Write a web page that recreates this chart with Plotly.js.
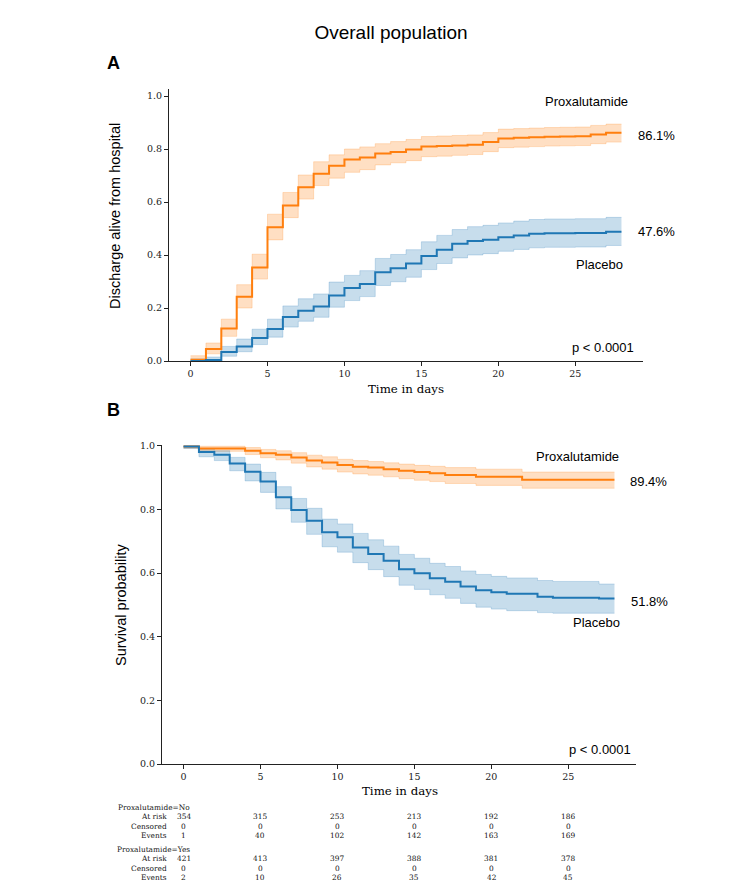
<!DOCTYPE html>
<html>
<head>
<meta charset="utf-8">
<script src="https://cdn.plot.ly/plotly-3.0.1.min.js"></script>
<style>html,body{margin:0;padding:0;background:#fff;}#chart{width:750px;height:884px;}</style>
</head>
<body>
<div id="chart"></div>
<script>
// ---------- DATA ----------
const days = [0,1,2,3,4,5,6,7,8,9,10,11,12,13,14,15,16,17,18,19,20,21,22,23,24,25,26,27,28];

// Panel A: discharge alive from hospital (cumulative)
const dischargeProx      = [0.005,0.045,0.123,0.242,0.353,0.505,0.587,0.656,0.707,0.737,0.760,0.768,0.783,0.789,0.798,0.809,0.811,0.813,0.816,0.826,0.840,0.842,0.844,0.846,0.847,0.848,0.855,0.861,0.861];
const dischargeProxLow   = [0.000,0.027,0.093,0.200,0.309,0.457,0.541,0.611,0.662,0.690,0.712,0.722,0.740,0.748,0.756,0.771,0.773,0.776,0.779,0.790,0.805,0.807,0.809,0.811,0.812,0.813,0.820,0.826,0.826];
const dischargeProxHigh  = [0.020,0.068,0.158,0.288,0.403,0.554,0.636,0.702,0.752,0.778,0.800,0.808,0.820,0.828,0.836,0.847,0.849,0.851,0.853,0.862,0.875,0.877,0.879,0.881,0.882,0.883,0.889,0.894,0.894];
const dischargePlac      = [0.000,0.004,0.034,0.055,0.087,0.121,0.166,0.190,0.206,0.247,0.275,0.291,0.335,0.350,0.368,0.396,0.420,0.442,0.453,0.458,0.467,0.474,0.480,0.482,0.482,0.483,0.483,0.488,0.488];
const dischargePlacLow   = [0.000,0.000,0.018,0.035,0.062,0.090,0.128,0.150,0.165,0.203,0.228,0.243,0.285,0.299,0.316,0.345,0.368,0.389,0.400,0.405,0.414,0.421,0.427,0.429,0.429,0.430,0.430,0.436,0.436];
const dischargePlacHigh  = [0.008,0.015,0.055,0.083,0.120,0.158,0.208,0.235,0.253,0.298,0.323,0.341,0.387,0.402,0.420,0.450,0.474,0.496,0.507,0.512,0.521,0.528,0.534,0.536,0.536,0.537,0.537,0.542,0.542];

// Panel B: survival probability
const survProx      = [0.998,0.992,0.992,0.992,0.985,0.977,0.972,0.964,0.954,0.948,0.940,0.935,0.932,0.927,0.922,0.918,0.914,0.909,0.909,0.903,0.903,0.903,0.894,0.894,0.894,0.894,0.894,0.894,0.894];
const survProxLow   = [0.993,0.983,0.983,0.983,0.973,0.963,0.956,0.946,0.934,0.927,0.918,0.912,0.908,0.903,0.897,0.892,0.888,0.882,0.882,0.876,0.876,0.876,0.867,0.867,0.867,0.867,0.867,0.867,0.867];
const survProxHigh  = [1.000,0.999,0.999,0.999,0.995,0.989,0.985,0.979,0.971,0.966,0.958,0.954,0.951,0.947,0.943,0.939,0.936,0.932,0.932,0.927,0.927,0.927,0.918,0.918,0.918,0.918,0.918,0.918,0.918];
const survPlac      = [0.998,0.981,0.972,0.945,0.919,0.888,0.839,0.799,0.765,0.729,0.713,0.681,0.660,0.639,0.612,0.600,0.584,0.573,0.558,0.546,0.540,0.535,0.535,0.526,0.523,0.523,0.523,0.520,0.520];
const survPlacLow   = [0.992,0.966,0.954,0.922,0.890,0.854,0.802,0.760,0.722,0.683,0.666,0.633,0.611,0.589,0.562,0.549,0.532,0.521,0.505,0.493,0.487,0.482,0.482,0.476,0.474,0.474,0.474,0.474,0.474];
const survPlacHigh  = [1.000,0.992,0.985,0.964,0.943,0.917,0.872,0.835,0.804,0.770,0.755,0.725,0.705,0.685,0.659,0.647,0.631,0.621,0.607,0.596,0.590,0.585,0.585,0.577,0.574,0.574,0.574,0.566,0.566];

// At-risk table
const tableTimes   = [0,5,10,15,20,25];
const noAtRisk     = [354,315,253,213,192,186];
const noCensored   = [0,0,0,0,0,0];
const noEvents     = [1,40,102,142,163,169];
const yesAtRisk    = [421,413,397,388,381,378];
const yesCensored  = [0,0,0,0,0,0];
const yesEvents    = [2,10,26,35,42,45];
const tableGroups  = ['Proxalutamide=No','Proxalutamide=Yes'];
const tableRowNames = ['At risk','Censored','Events'];

const xTicks = [0,5,10,15,20,25];
const yTicks = [0,0.2,0.4,0.6,0.8,1.0];

// ---------- STYLE ----------
const W = 750, H = 884;
const ORANGE = '#ff7f0e', BLUE = '#1f77b4';
const ORANGE_FILL = 'rgba(255,127,14,0.25)', BLUE_FILL = 'rgba(31,119,180,0.25)';
const ORANGE_EDGE = 'rgba(255,127,14,0.22)', BLUE_EDGE = 'rgba(31,119,180,0.22)';
const SERIF = 'DejaVu Serif, serif';
const SANS = 'Liberation Sans, Arial, sans-serif';
const AX = '#222';
const px = (y) => 1 - y / H;   // pixel row -> paper y
const pxx = (x) => x / W;      // pixel col -> paper x

function band(low, high, edge, fill, xa, ya) {
  return [
    {x: days, y: low, type: 'scatter', mode: 'lines', line: {shape: 'hv', width: 1, color: edge},
     xaxis: xa, yaxis: ya, hoverinfo: 'skip', showlegend: false},
    {x: days, y: high, type: 'scatter', mode: 'lines', line: {shape: 'hv', width: 1, color: edge},
     fill: 'tonexty', fillcolor: fill, xaxis: xa, yaxis: ya, hoverinfo: 'skip', showlegend: false}
  ];
}
function line(y, color, xa, ya, name) {
  return {x: days, y: y, type: 'scatter', mode: 'lines', name: name,
          line: {shape: 'hv', width: 2, color: color}, xaxis: xa, yaxis: ya, showlegend: false};
}

const traces = [
  ...band(dischargeProxLow, dischargeProxHigh, ORANGE_EDGE, ORANGE_FILL, 'x', 'y'),
  ...band(dischargePlacLow, dischargePlacHigh, BLUE_EDGE, BLUE_FILL, 'x', 'y'),
  line(dischargeProx, ORANGE, 'x', 'y', 'Proxalutamide'),
  line(dischargePlac, BLUE, 'x', 'y', 'Placebo'),
  ...band(survProxLow, survProxHigh, ORANGE_EDGE, ORANGE_FILL, 'x2', 'y2'),
  ...band(survPlacLow, survPlacHigh, BLUE_EDGE, BLUE_FILL, 'x2', 'y2'),
  line(survProx, ORANGE, 'x2', 'y2', 'Proxalutamide'),
  line(survPlac, BLUE, 'x2', 'y2', 'Placebo')
];

function xAxis(domain, anchor) {
  return {domain: domain, anchor: anchor, range: [-1.4, 29.4], showgrid: false, zeroline: false,
          showline: true, linecolor: AX, linewidth: 1, ticks: 'outside', ticklen: 4, tickwidth: 1,
          tickcolor: AX, tickvals: xTicks, tickfont: {family: SERIF, size: 9.5, color: AX}, fixedrange: true};
}
function yAxis(domain, anchor, range) {
  return {domain: domain, anchor: anchor, range: range, showgrid: false, zeroline: false,
          showline: true, linecolor: AX, linewidth: 1, ticks: 'outside', ticklen: 4, tickwidth: 1,
          tickcolor: AX, tickvals: yTicks, tickformat: '.1f', tickfont: {family: SERIF, size: 9.5, color: AX}, fixedrange: true};
}

const ann = [];
function txt(x, y, text, size, opts) {
  ann.push(Object.assign({x: pxx(x), y: px(y), xref: 'paper', yref: 'paper', text: text, showarrow: false,
    xanchor: 'center', yanchor: 'middle', font: {family: SANS, size: size, color: '#000'}}, opts || {}));
}
// panel letters
txt(113.5, 63.5, '<b>A</b>', 18);
txt(113.5, 410, '<b>B</b>', 18);
// axis titles
txt(115, 216, 'Discharge alive from hospital', 14.5, {textangle: -90});
txt(121, 605, 'Survival probability', 14.5, {textangle: -90});
txt(406, 389, 'Time in days', 11.8, {font: {family: SERIF, size: 11.8, color: '#000'}});
txt(400, 791, 'Time in days', 11.8, {font: {family: SERIF, size: 11.8, color: '#000'}});
// panel A labels
txt(586, 101, 'Proxalutamide', 13);
txt(656.5, 135.7, '86.1%', 13);
txt(656.5, 231.7, '47.6%', 13);
txt(599.5, 264.3, 'Placebo', 13);
txt(603, 347.7, 'p &lt; 0.0001', 13);
// panel B labels
txt(577, 456, 'Proxalutamide', 13);
txt(648.5, 482, '89.4%', 13);
txt(649.5, 601, '51.8%', 13);
txt(596, 622.3, 'Placebo', 13);
txt(600, 749, 'p &lt; 0.0001', 13);

// at-risk table
const tblFont = {family: SERIF, size: 7.4, color: '#111'};
const groupData = [
  [noAtRisk, noCensored, noEvents],
  [yesAtRisk, yesCensored, yesEvents]
];
const groupTop = [807, 849];
const rowStep = 9.5;
groupData.forEach((rows, g) => {
  ann.push({x: pxx(192.3), y: px(groupTop[g]), xref: 'paper', yref: 'paper', text: tableGroups[g],
            showarrow: false, xanchor: 'right', yanchor: 'middle', font: tblFont});
  rows.forEach((vals, r) => {
    const yy = px(groupTop[g] + rowStep * (r + 1));
    ann.push({x: pxx(169.3), y: yy, xref: 'paper', yref: 'paper', text: tableRowNames[r],
              showarrow: false, xanchor: 'right', yanchor: 'middle', font: tblFont});
    vals.forEach((v, i) => {
      ann.push({x: tableTimes[i], y: yy, xref: 'x2', yref: 'paper', text: String(v),
                showarrow: false, xanchor: 'center', yanchor: 'middle', font: tblFont});
    });
  });
});

const layout = {
  width: W, height: H, margin: {l: 0, r: 0, t: 0, b: 0},
  paper_bgcolor: '#fff', plot_bgcolor: '#fff', showlegend: false,
  title: {text: 'Overall population', x: pxx(391), xanchor: 'center', y: px(32), yanchor: 'middle',
          xref: 'paper', yref: 'paper', font: {family: SANS, size: 19, color: '#000'}},
  xaxis: xAxis([169 / W, 643 / W], 'y'),
  yaxis: yAxis([px(361), px(89)], 'x', [0, 1.0264]),
  xaxis2: xAxis([162 / W, 636 / W], 'y2'),
  yaxis2: yAxis([px(764), px(445)], 'x2', [0, 1.003]),
  annotations: ann
};

Plotly.newPlot('chart', traces, layout, {staticPlot: true, displayModeBar: false});
</script>
</body>
</html>
